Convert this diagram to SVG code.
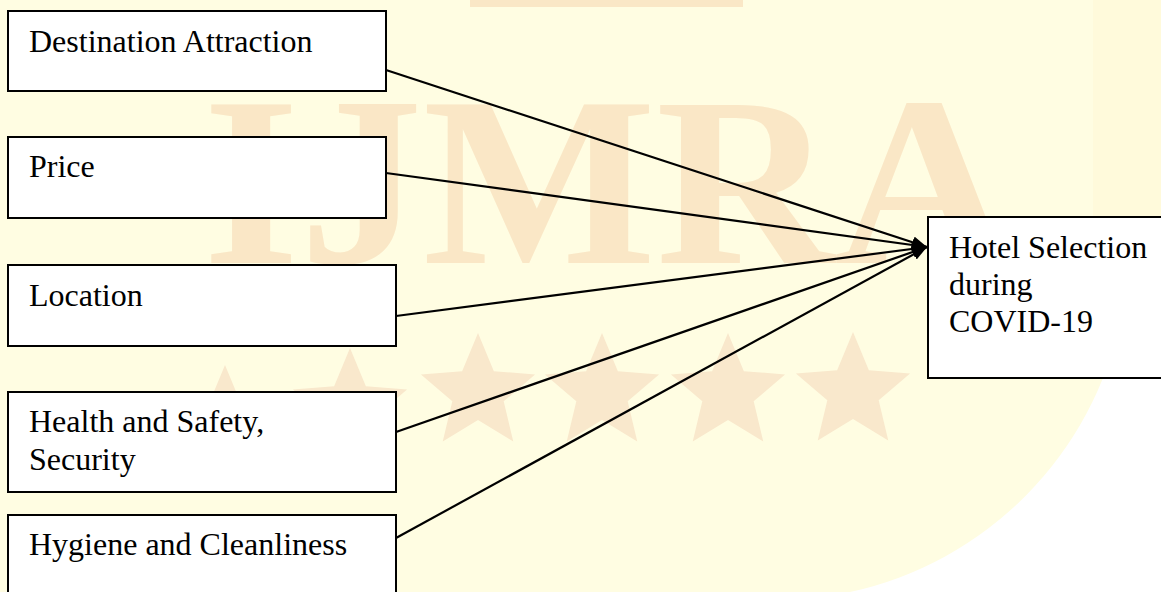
<svg xmlns="http://www.w3.org/2000/svg" width="1161" height="592" viewBox="0 0 1161 592">
<style>
.box{fill:#ffffff;stroke:#000000;stroke-width:2}
.lbl{font-family:"Liberation Serif","Times New Roman",serif;font-size:32px;fill:#000000}
.edge{stroke:#000000;stroke-width:2.2;fill:none;marker-end:url(#arr)}
.wm{fill:#fae7c6}
.ws{fill:#f9e8cc}
</style>
<defs>
<marker id="arr" markerUnits="userSpaceOnUse" markerWidth="16" markerHeight="12" refX="15" refY="6" orient="auto">
<path d="M0,0 L15,6 L0,12 Z" fill="#000000"/>
</marker>
<path id="star" d="M0,-60 L15.87,-21.84 L57.06,-18.54 L25.68,8.34 L35.27,48.54 L0,27 L-35.27,48.54 L-25.68,8.34 L-57.06,-18.54 L-15.87,-21.84 Z"/>
</defs>
<g id="watermark">
<rect x="0" y="0" width="1161" height="592" fill="#fffde2"/>
<rect x="1093" y="0" width="68" height="300" fill="#fffadb"/>
<path d="M1161,300 L1121,318 A353,353 0 0 1 850,592 L1161,592 Z" fill="#ffffff"/>
<rect x="470" y="0" width="273" height="7" class="wm"/>
<text x="203" y="263" font-family="Liberation Serif, serif" font-weight="bold" font-size="242" textLength="810" lengthAdjust="spacingAndGlyphs" class="wm">IJMRA</text>
<use href="#star" x="225" y="425" class="ws"/>
<use href="#star" x="350" y="408" class="ws"/>
<use href="#star" x="478" y="393" class="ws"/>
<use href="#star" x="602" y="393" class="ws"/>
<use href="#star" x="728" y="393" class="ws"/>
<use href="#star" x="853" y="392" class="ws"/>
</g>
<g id="connectors">
<line class="edge" x1="386" y1="70" x2="927" y2="247"/>
<line class="edge" x1="386" y1="173" x2="927" y2="247"/>
<line class="edge" x1="396" y1="316" x2="927" y2="247"/>
<line class="edge" x1="396" y1="432" x2="927" y2="247"/>
<line class="edge" x1="396" y1="538" x2="927" y2="247"/>
</g>
<g id="node-destination">
<rect class="box" x="8" y="11" width="378" height="80"/>
<text class="lbl" x="29" y="52">Destination Attraction</text>
</g>
<g id="node-price">
<rect class="box" x="8" y="137" width="378" height="81"/>
<text class="lbl" x="29" y="177">Price</text>
</g>
<g id="node-location">
<rect class="box" x="8" y="265" width="388" height="81"/>
<text class="lbl" x="29" y="306">Location</text>
</g>
<g id="node-health">
<rect class="box" x="8" y="392" width="388" height="100"/>
<text class="lbl" x="29" y="432">Health and Safety,</text>
<text class="lbl" x="29" y="470">Security</text>
</g>
<g id="node-hygiene">
<rect class="box" x="8" y="515" width="388" height="100"/>
<text class="lbl" x="29" y="555">Hygiene and Cleanliness</text>
</g>
<g id="node-hotel">
<rect class="box" x="928" y="217" width="250" height="161"/>
<text class="lbl" x="949" y="258">Hotel Selection</text>
<text class="lbl" x="949" y="295">during</text>
<text class="lbl" x="949" y="332">COVID-19</text>
</g>
</svg>
